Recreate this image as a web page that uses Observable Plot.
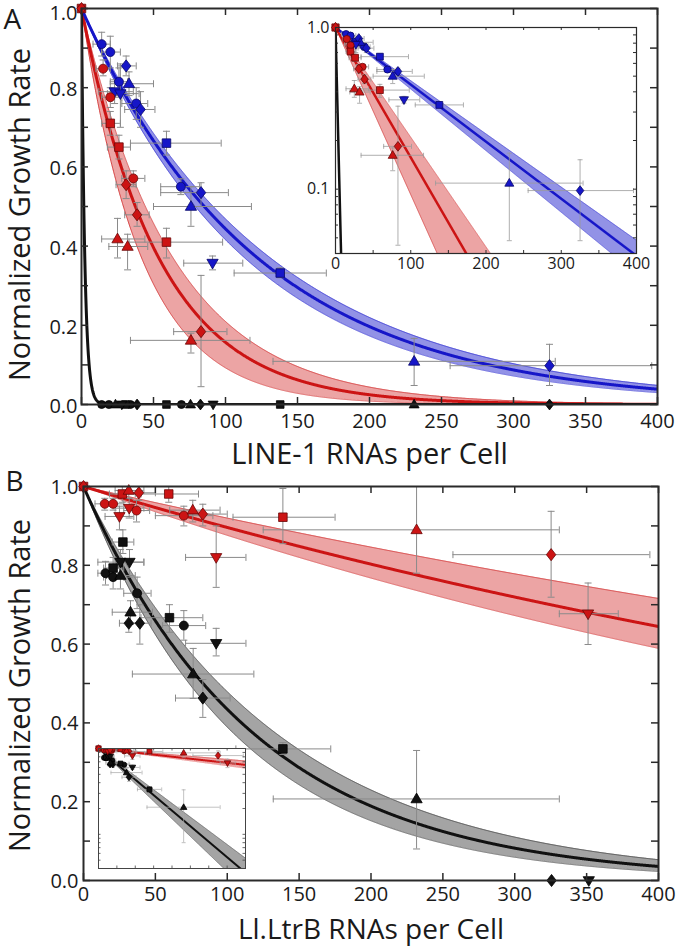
<!DOCTYPE html>
<html><head><meta charset="utf-8">
<script src="https://cdn.jsdelivr.net/npm/d3@7"></script>
<script src="https://cdn.jsdelivr.net/npm/@observablehq/plot@0.6"></script>
<style>
body{margin:0;background:#fff;}
#fig{position:relative;width:677px;height:946px;overflow:hidden;background:#fff;}
#fig svg{position:absolute;overflow:visible;}
</style></head><body><div id="fig"></div>
<script>
// ---------- text ----------
const panelLetters = ["A", "B"];
const yLabel = "Normalized Growth Rate";
const xLabelA = "LINE-1 RNAs per Cell";
const xLabelB = "Ll.LtrB RNAs per Cell";

// ---------- ticks ----------
const xTicks = [0, 50, 100, 150, 200, 250, 300, 350, 400];
const yTicksLabeled = [0, 0.2, 0.4, 0.6, 0.8];
const yTickTop = [1.0];
const yTicksAll = [0, 0.1, 0.2, 0.3, 0.4, 0.5, 0.6, 0.7, 0.8, 0.9, 1.0];
const insetXLabeled = [0, 100, 200, 300, 400];
const insetLogLabeled = [0.1, 1];
const insetLogTicks = [0.04, 0.05, 0.06, 0.07, 0.08, 0.09, 0.1, 0.2, 0.3, 0.4, 0.5, 0.6, 0.7, 0.8, 0.9, 1];

// ---------- fitted decay constants [central, low, high] (RNAs per cell) ----------
const fitBlueA = [123, 114, 132];
const fitRedA = [54, 42, 64];
const fitBlackA = [2.3];
const fitRedB = [911, 756, 1197];
const fitBlackB = [120, 106, 136];

// ---------- data rows: [x, y, shape, xLow, xHigh, yLow, yHigh] ----------
const origin = [[0, 1.0, "square"], [0, 1.0, "diamond"]];

const blueA = [
  [14, 0.91, "circle", 8, 20, 0.88, 0.94],
  [20, 0.89, "circle", 14, 27, 0.85, 0.93],
  [31, 0.855, "diamond", 25, 38, 0.83, 0.88],
  [26, 0.815, "circle", 20, 32, 0.78, 0.85],
  [33, 0.81, "up", 20, 50, 0.78, 0.84],
  [23, 0.79, "down", 12, 36, 0.76, 0.82],
  [27, 0.785, "down", 18, 40, 0.70, 0.86],
  [38, 0.76, "circle", 28, 46, 0.72, 0.80],
  [41, 0.745, "diamond", 30, 51, 0.70, 0.79],
  [59, 0.66, "square", 34, 97, 0.63, 0.69],
  [69, 0.55, "circle", 55, 82, 0.53, 0.57],
  [83, 0.535, "diamond", 55, 102, 0.50, 0.56],
  [76, 0.50, "up", 50, 118, 0.45, 0.55],
  [91, 0.357, "down", 71, 112, 0.34, 0.375],
  [138, 0.332, "square", 106, 170, 0.32, 0.345],
  [231, 0.109, "up", 133, 329, 0.048, 0.167],
  [325, 0.098, "diamond", 256, 396, 0.048, 0.152]
];
const redA = [
  [15, 0.848, "circle", 10, 20, 0.83, 0.87],
  [20, 0.776, "circle", 14, 28, 0.75, 0.80],
  [20, 0.71, "square", 14, 27, 0.68, 0.74],
  [26, 0.65, "square", 18, 34, 0.62, 0.68],
  [31, 0.555, "diamond", 24, 38, 0.52, 0.59],
  [36, 0.571, "circle", 28, 44, 0.55, 0.59],
  [38.6, 0.479, "diamond", 30, 47, 0.45, 0.51],
  [25, 0.418, "up", 14, 44, 0.37, 0.47],
  [32, 0.399, "up", 19, 46, 0.34, 0.43],
  [59, 0.41, "square", 33, 98, 0.37, 0.445],
  [76, 0.162, "up", 34, 117, 0.13, 0.18],
  [83, 0.184, "diamond", 64, 101, 0.045, 0.326]
];
const blackA = [
  [14, 0, "circle"], [19, 0, "circle"], [23.6, 0, "up"], [28, 0, "down"],
  [30.5, 0, "square"], [34, 0, "circle"], [38.6, 0, "diamond"], [59, 0, "square"],
  [69.4, 0, "circle"], [75.7, 0, "up"], [82.6, 0, "diamond"], [91.4, 0, "down"],
  [138, 0, "square"], [231, 0, "up"], [325, 0, "diamond"]
];

const redB = [
  [14.8, 0.956, "circle", 8, 22, 0.94, 0.97],
  [20.6, 0.956, "circle", 14, 28, 0.94, 0.97],
  [25, 0.924, "down", 15, 35, 0.89, 0.95],
  [27, 0.981, "square", 18, 36, 0.96, 1.0],
  [31.5, 0.99, "up", 22, 42, 0.97, 1.0],
  [31.8, 0.945, "down", 22, 42, 0.92, 0.97],
  [36.9, 0.939, "circle", 28, 46, 0.91, 0.965],
  [38.5, 0.984, "diamond", 28, 50, 0.965, 1.0],
  [59.3, 0.981, "square", 40, 80, 0.96, 1.0],
  [69.8, 0.926, "circle", 50, 90, 0.90, 0.95],
  [76, 0.94, "up", 60, 95, 0.91, 0.965],
  [83, 0.93, "diamond", 68, 100, 0.90, 0.955],
  [92.3, 0.82, "down", 71, 113, 0.744, 0.90],
  [138.7, 0.922, "square", 104, 175, 0.855, 0.995],
  [231.7, 0.89, "up", 125, 331, 0.78, 1.0],
  [325.3, 0.827, "diamond", 257, 394, 0.719, 0.937],
  [351, 0.677, "down", 331, 372, 0.599, 0.755]
];
const blackB = [
  [15.3, 0.78, "circle", 10, 22, 0.75, 0.81],
  [20.6, 0.793, "square", 14, 28, 0.77, 0.82],
  [20.6, 0.77, "circle", 14, 28, 0.74, 0.80],
  [25.7, 0.774, "up", 16, 36, 0.74, 0.81],
  [27.4, 0.859, "square", 20, 35, 0.83, 0.89],
  [25.7, 0.808, "down", 10, 42, 0.78, 0.84],
  [32, 0.808, "down", 22, 42, 0.77, 0.84],
  [37.3, 0.729, "circle", 28, 47, 0.69, 0.77],
  [32.7, 0.681, "up", 20, 48, 0.65, 0.71],
  [31.5, 0.653, "diamond", 25, 38, 0.63, 0.68],
  [39.2, 0.653, "diamond", 32, 47, 0.60, 0.70],
  [59.8, 0.667, "square", 40, 83, 0.63, 0.70],
  [69.8, 0.647, "circle", 55, 85, 0.61, 0.685],
  [92.3, 0.602, "down", 71, 113, 0.57, 0.64],
  [76.3, 0.524, "up", 34, 118.5, 0.462, 0.589],
  [83, 0.463, "diamond", 64, 102, 0.414, 0.51],
  [138.7, 0.334, "square", 106, 172, 0.32, 0.35],
  [231.7, 0.207, "up", 132, 331, 0.08, 0.33],
  [325.6, 0, "diamond"],
  [351.5, 0, "down"]
];

// ---------- helpers ----------
const rows = arr => arr.map(([x, y, shape, xlo, xhi, ylo, yhi]) => ({x, y, shape, xlo, xhi, ylo, yhi}));
const FONT = "'Open Sans', 'Noto Sans', sans-serif";

function shape(kind) {
  return {draw(ctx, size) {
    const r = Math.sqrt(size / Math.PI);
    if (kind === "circle") { ctx.moveTo(r, 0); ctx.arc(0, 0, r, 0, 2 * Math.PI); }
    else if (kind === "square") { const s = r * 0.95; ctx.moveTo(-s, -s); ctx.lineTo(s, -s); ctx.lineTo(s, s); ctx.lineTo(-s, s); ctx.closePath(); }
    else if (kind === "diamond") { ctx.moveTo(0, -1.35 * r); ctx.lineTo(1.05 * r, 0); ctx.lineTo(0, 1.35 * r); ctx.lineTo(-1.05 * r, 0); ctx.closePath(); }
    else if (kind === "up") { ctx.moveTo(0, -1.3 * r); ctx.lineTo(1.25 * r, 0.85 * r); ctx.lineTo(-1.25 * r, 0.85 * r); ctx.closePath(); }
    else if (kind === "down") { ctx.moveTo(0, 1.3 * r); ctx.lineTo(1.25 * r, -0.85 * r); ctx.lineTo(-1.25 * r, -0.85 * r); ctx.closePath(); }
  }};
}
const SHAPES = ["circle", "square", "diamond", "up", "down"];
const capH = {draw(ctx, size) { const w = Math.sqrt(size / Math.PI); ctx.moveTo(-w, 0); ctx.lineTo(w, 0); }};
const capV = {draw(ctx, size) { const w = Math.sqrt(size / Math.PI); ctx.moveTo(0, -w); ctx.lineTo(0, w); }};

function dots(data, fill, stroke, r, extra = {}) {
  return SHAPES.map(s => Plot.dot(data.filter(d => d.shape === s), {x: "x", y: "y", symbol: shape(s), r, fill, stroke, strokeWidth: 0.8, ...extra}));
}
function errs(data, color, cap, width, opts = {}) {
  const v = data.filter(d => d.ylo != null);
  const h = data.filter(d => d.xlo != null);
  const o = {stroke: color, strokeWidth: width, ...opts};
  return [
    Plot.ruleX(v, {x: "x", y1: "ylo", y2: "yhi", ...o}),
    Plot.ruleY(h, {y: "y", x1: "xlo", x2: "xhi", ...o}),
    Plot.dot(v, {x: "x", y: "ylo", symbol: capH, r: cap, fill: "none", ...o}),
    Plot.dot(v, {x: "x", y: "yhi", symbol: capH, r: cap, fill: "none", ...o}),
    Plot.dot(h, {x: "xlo", y: "y", symbol: capV, r: cap, fill: "none", ...o}),
    Plot.dot(h, {x: "xhi", y: "y", symbol: capV, r: cap, fill: "none", ...o})
  ];
}
const xs = d3.range(0, 400.001, 0.25);
function fitCurve(p) {
  return xs.map(x => ({x, y: Math.exp(-x / p[0]), lo: Math.exp(-x / (p[1] ?? p[0])), hi: Math.exp(-x / (p[2] ?? p[0]))}));
}
function band(p, fill, edge, ew = 0.8) {
  const c = fitCurve(p);
  return [
    Plot.areaY(c, {x: "x", y1: "lo", y2: "hi", fill, clip: true}),
    Plot.line(c, {x: "x", y: "lo", stroke: edge, strokeWidth: ew, clip: true}),
    Plot.line(c, {x: "x", y: "hi", stroke: edge, strokeWidth: ew, clip: true})
  ];
}
function fitLine(p, stroke, sw) {
  return Plot.line(fitCurve(p), {x: "x", y: "y", stroke, strokeWidth: sw, clip: true});
}
function inward(xt, yt, fw, fh, len, color, sw) {
  return [
    Plot.ruleX(xt, {x: d => d, insetTop: fh - len, stroke: color, strokeWidth: sw}),
    Plot.ruleX(xt, {x: d => d, insetBottom: fh - len, stroke: color, strokeWidth: sw}),
    Plot.ruleY(yt, {y: d => d, insetRight: fw - len, stroke: color, strokeWidth: sw}),
    Plot.ruleY(yt, {y: d => d, insetLeft: fw - len, stroke: color, strokeWidth: sw})
  ];
}
function place(svg, left, top) {
  svg.style.left = left + "px";
  svg.style.top = top + "px";
  document.getElementById("fig").appendChild(svg);
}

const BLUE = "#1616c8", BLUE_D = "#08086a", BLUE_BAND = "#9292e6", BLUE_EDGE = "#3030d0";
const RED = "#cc1414", RED_D = "#6a0808", RED_BAND = "#eca4a4", RED_EDGE = "#d03030";
const BLK = "#111111", GRAY_BAND = "#a4a4a4", GRAY_EDGE = "#404040";
const ERR = "#8a8a8a";
const FRAME = "#2a2a2a";

const oRows = rows(origin);
const bA = rows(blueA), rA = rows(redA), kA = rows(blackA);
const rB = rows(redB), kB = rows(blackB);

// ---------- Panel A main ----------
{
  const mL = 81, mR = 20, mT = 8, mB = 56, W = 677, H = 460;
  const fw = W - mL - mR, fh = H - mT - mB;
  const svg = Plot.plot({
    width: W, height: H, marginLeft: mL, marginRight: mR, marginTop: mT, marginBottom: mB,
    x: {domain: [0, 400]}, y: {domain: [0, 1]},
    style: {fontFamily: FONT, fontSize: "20px", color: "#1a1a1a", background: "transparent", overflow: "visible"},
    marks: [
      ...band(fitRedA, RED_BAND, RED_EDGE),
      ...band(fitBlueA, BLUE_BAND, BLUE_EDGE),
      fitLine(fitRedA, RED, 3),
      fitLine(fitBlueA, BLUE, 3),
      fitLine(fitBlackA, BLK, 3),
      ...errs(bA, ERR, 3.5, 1),
      ...errs(rA, ERR, 3.5, 1),
      ...dots(bA, BLUE, BLUE_D, 4.5),
      ...dots(rA, RED, RED_D, 4.5),
      ...dots(kA, BLK, "#000", 4),
      ...dots(oRows, RED, RED_D, 4.5),
      Plot.frame({stroke: FRAME, strokeWidth: 2}),
      ...inward(xTicks, yTicksAll, fw, fh, 7, FRAME, 1.5),
      Plot.axisX({anchor: "bottom", ticks: xTicks, tickSize: 0, tickPadding: 9, label: null, fontSize: 20}),
      Plot.axisY({anchor: "left", ticks: yTicksLabeled, tickSize: 0, tickPadding: 4, dy: 2, tickFormat: d3.format(".1f"), label: null, fontSize: 20}),
      Plot.axisY({anchor: "left", ticks: yTickTop, tickSize: 0, tickPadding: 4, dy: 5, tickFormat: d3.format(".1f"), label: null, fontSize: 20}),
      Plot.text([xLabelA], {text: d => d, frameAnchor: "bottom", lineAnchor: "bottom", dy: 59, fontSize: 29}),
      Plot.text([yLabel], {text: d => d, frameAnchor: "left", textAnchor: "middle", lineAnchor: "bottom", rotate: -90, dx: -52, dy: 8, fontSize: 29}),
      Plot.text([panelLetters[0]], {text: d => d, frameAnchor: "top-left", textAnchor: "start", lineAnchor: "bottom", dx: -78, dy: 20, fontSize: 28})
    ]
  });
  place(svg, 0, 0);
}

// ---------- Panel A inset (log) ----------
{
  const mL = 45, mR = 9, mT = 10, mB = 32, W = 355, H = 268;
  const fw = W - mL - mR, fh = H - mT - mB;
  const pos = d => d.y > 0;
  const svg = Plot.plot({
    width: W, height: H, marginLeft: mL, marginRight: mR, marginTop: mT, marginBottom: mB,
    x: {domain: [0, 400]}, y: {type: "log", domain: [0.04, 1]},
    style: {fontFamily: FONT, fontSize: "16px", color: "#1a1a1a", background: "transparent", overflow: "visible"},
    marks: [
      Plot.frame({fill: "white"}),
      ...band(fitRedA, RED_BAND, RED_EDGE, 0.6),
      ...band(fitBlueA, BLUE_BAND, BLUE_EDGE, 0.6),
      fitLine(fitRedA, RED, 2.5),
      fitLine(fitBlueA, BLUE, 2.5),
      fitLine(fitBlackA, BLK, 2.5),
      ...errs(bA.filter(pos), "#9a9a9a", 2.5, 0.8, {clip: true}),
      ...errs(rA.filter(pos), "#9a9a9a", 2.5, 0.8, {clip: true}),
      ...dots(bA.filter(pos), BLUE, BLUE_D, 3.6, {clip: true}),
      ...dots(rA.filter(pos), RED, RED_D, 3.6, {clip: true}),
      ...dots(oRows, RED, RED_D, 3.8),
      Plot.frame({stroke: FRAME, strokeWidth: 1.2}),
      ...inward(xTicks, insetLogTicks, fw, fh, 3, FRAME, 1),
      Plot.axisX({anchor: "bottom", ticks: insetXLabeled, tickSize: 0, tickPadding: 4, label: null, fontSize: 16}),
      Plot.axisY({anchor: "left", ticks: insetLogLabeled, tickSize: 0, tickPadding: 6, tickFormat: d3.format(".1f"), label: null, fontSize: 16})
    ]
  });
  place(svg, 290, 17);
}

// ---------- Panel B main ----------
{
  const mL = 83, mR = 19, mT = 26, mB = 66, W = 677, H = 486;
  const fw = W - mL - mR, fh = H - mT - mB;
  const svg = Plot.plot({
    width: W, height: H, marginLeft: mL, marginRight: mR, marginTop: mT, marginBottom: mB,
    x: {domain: [0, 400]}, y: {domain: [0, 1]},
    style: {fontFamily: FONT, fontSize: "20px", color: "#1a1a1a", background: "transparent", overflow: "visible"},
    marks: [
      ...band(fitBlackB, GRAY_BAND, GRAY_EDGE),
      ...band(fitRedB, RED_BAND, RED_EDGE),
      fitLine(fitBlackB, BLK, 3),
      fitLine(fitRedB, RED, 3),
      ...errs(kB, ERR, 3.5, 1),
      ...errs(rB, ERR, 3.5, 1),
      ...dots(kB, BLK, "#000", 4.5),
      ...dots(rB, RED, RED_D, 4.5),
      ...dots(oRows, RED, RED_D, 4.5),
      Plot.frame({stroke: FRAME, strokeWidth: 2}),
      ...inward(xTicks, yTicksAll, fw, fh, 7, FRAME, 1.5),
      Plot.axisX({anchor: "bottom", ticks: xTicks, tickSize: 0, tickPadding: 6, label: null, fontSize: 20}),
      Plot.axisY({anchor: "left", ticks: yTicksLabeled.concat(yTickTop), tickSize: 0, tickPadding: 5, dy: 1, tickFormat: d3.format(".1f"), label: null, fontSize: 20}),
      Plot.text([xLabelB], {text: d => d, frameAnchor: "bottom", lineAnchor: "bottom", dy: 58, fontSize: 28}),
      Plot.text([yLabel], {text: d => d, frameAnchor: "left", textAnchor: "middle", lineAnchor: "bottom", rotate: -90, dx: -54, dy: 2, fontSize: 29}),
      Plot.text([panelLetters[1]], {text: d => d, frameAnchor: "top-left", textAnchor: "start", lineAnchor: "bottom", dx: -78, dy: 4, fontSize: 28})
    ]
  });
  place(svg, 0, 460);
}

// ---------- Panel B inset (log) ----------
{
  const mL = 5, mR = 5, mT = 5, mB = 5, W = 157, H = 130;
  const fw = W - mL - mR, fh = H - mT - mB;
  const pos = d => d.y > 0;
  const svg = Plot.plot({
    width: W, height: H, marginLeft: mL, marginRight: mR, marginTop: mT, marginBottom: mB,
    x: {domain: [0, 400]}, y: {type: "log", domain: [0.04, 1]},
    style: {fontFamily: FONT, fontSize: "12px", background: "transparent", overflow: "visible"},
    marks: [
      Plot.frame({fill: "white"}),
      ...band(fitBlackB, GRAY_BAND, GRAY_EDGE, 0.5),
      ...band(fitRedB, RED_BAND, RED_EDGE, 0.5),
      fitLine(fitBlackB, BLK, 2),
      fitLine(fitRedB, RED, 2),
      ...errs(kB.filter(pos), "#a8a8a8", 2, 0.7, {clip: true}),
      ...errs(rB.filter(pos), "#a8a8a8", 2, 0.7, {clip: true}),
      ...dots(kB.filter(pos), BLK, "#000", 2.6, {clip: true}),
      ...dots(rB.filter(pos), RED, RED_D, 2.6, {clip: true}),
      ...dots(oRows, RED, RED_D, 2.8),
      Plot.frame({stroke: "#444", strokeWidth: 1}),
      ...inward(xTicks, insetLogTicks, fw, fh, 2.5, "#444", 0.8),
      Plot.axisX({anchor: "bottom", ticks: [], label: null}),
      Plot.axisY({anchor: "left", ticks: [], label: null})
    ]
  });
  place(svg, 93, 743);
}
</script></body></html>
